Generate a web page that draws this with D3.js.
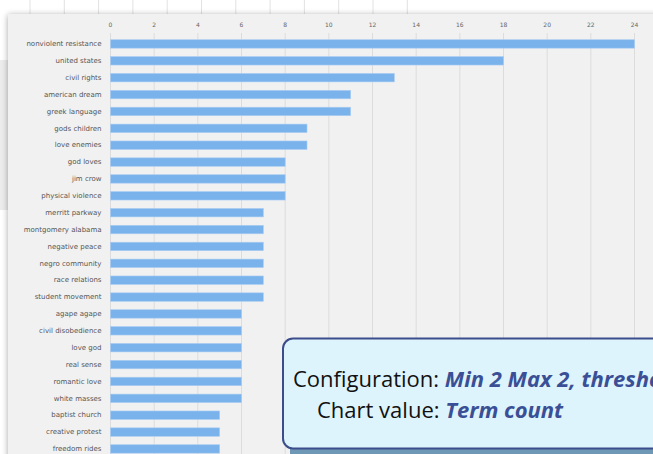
<!DOCTYPE html>
<html>
<head>
<meta charset="utf-8">
<script src="https://cdn.jsdelivr.net/npm/d3@7"></script>
<style>
  html, body { margin: 0; padding: 0; background: #fff; overflow: hidden; }
  svg { display: block; }
</style>
</head>
<body>
<div id="chart"></div>
<script>
const terms = [
  "nonviolent resistance", "united states", "civil rights", "american dream", "greek language",
  "gods children", "love enemies", "god loves", "jim crow", "physical violence",
  "merritt parkway", "montgomery alabama", "negative peace", "negro community", "race relations",
  "student movement", "agape agape", "civil disobedience", "love god", "real sense",
  "romantic love", "white masses", "baptist church", "creative protest", "freedom rides"
];
const counts = [24, 18, 13, 11, 11, 9, 9, 8, 8, 8, 7, 7, 7, 7, 7, 7, 6, 6, 6, 6, 6, 6, 5, 5, 5];
const xTicks = [0, 2, 4, 6, 8, 10, 12, 14, 16, 18, 20, 22, 24];
const configText = "Min 2 Max 2, threshold 2";
const chartValueText = "Term count";

const width = 653;
const height = 454;
const marginLeft = 110;
const marginRight = 19;
const marginTop = 35.5;

const svg = d3.select("#chart").append("svg")
  .attr("width", width)
  .attr("height", height);

const defs = svg.append("defs");
const shadow = defs.append("filter").attr("id", "shadow")
  .attr("x", "-10%").attr("y", "-10%").attr("width", "120%").attr("height", "120%");
shadow.append("feGaussianBlur").attr("in", "SourceAlpha").attr("stdDeviation", 3);
shadow.append("feOffset").attr("dx", 0).attr("dy", 1).attr("result", "b");
shadow.append("feComponentTransfer").append("feFuncA").attr("type", "linear").attr("slope", 0.35);
const merge = shadow.append("feMerge");
merge.append("feMergeNode");
merge.append("feMergeNode").attr("in", "SourceGraphic");

// background sheet behind the panel
const bg = svg.append("g");
bg.selectAll("line")
  .data(d3.range(30, 430, 34.3))
  .join("line")
  .attr("x1", d => d).attr("x2", d => d)
  .attr("y1", 0).attr("y2", 14)
  .attr("stroke", "#e2e2e2");
bg.append("rect").attr("x", 0).attr("y", 60).attr("width", 8).attr("height", 150).attr("fill", "#ececec");

// chart panel
svg.append("rect")
  .attr("x", 8).attr("y", 14)
  .attr("width", width).attr("height", height)
  .attr("fill", "#f1f1f1")
  .attr("filter", "url(#shadow)");

const x = d3.scaleLinear()
  .domain([0, 24])
  .range([marginLeft, width - marginRight]);

const y = d3.scaleBand()
  .domain(terms)
  .range([marginTop, marginTop + 16.875 * terms.length])
  .paddingInner(0.5)
  .paddingOuter(0.25);

// vertical grid
svg.append("g")
  .selectAll("line")
  .data(xTicks)
  .join("line")
  .attr("x1", d => x(d) + 0.5).attr("x2", d => x(d) + 0.5)
  .attr("y1", 33).attr("y2", height)
  .attr("stroke", "#dcdcdc");

// top axis labels
svg.append("g")
  .attr("transform", "translate(0,27)")
  .call(d3.axisTop(x).tickValues(xTicks).tickSize(0).tickPadding(0))
  .call(g => g.select(".domain").remove())
  .call(g => g.selectAll("text")
    .attr("font-family", "DejaVu Sans, Verdana, sans-serif")
    .attr("font-size", 6)
    .attr("fill", "#666"));

// bars
svg.append("g")
  .selectAll("rect")
  .data(terms.map((t, i) => ({ term: t, value: counts[i] })))
  .join("rect")
  .attr("x", x(0) + 0.5)
  .attr("y", d => y(d.term))
  .attr("width", d => x(d.value) - x(0))
  .attr("height", y.bandwidth())
  .attr("fill", "#7ab3eb")
  .attr("stroke", "#a9ccf2")
  .attr("stroke-width", 0.6);

// category labels
svg.append("g")
  .attr("transform", `translate(${marginLeft - 8.5},0)`)
  .call(d3.axisLeft(y).tickSize(0).tickPadding(0))
  .call(g => g.select(".domain").remove())
  .call(g => g.selectAll("text")
    .attr("font-family", "DejaVu Sans, Verdana, sans-serif")
    .attr("font-size", 7)
    .attr("fill", "#555"));

// configuration callout
const box = svg.append("g");
box.append("rect")
  .attr("x", 290).attr("y", 446)
  .attr("width", 400).attr("height", 20)
  .attr("fill", "#6f98b7");
box.append("rect")
  .attr("x", 283).attr("y", 338.5)
  .attr("width", 400).attr("height", 110)
  .attr("rx", 10)
  .attr("fill", "#def4fd")
  .attr("stroke", "#3c4d8c")
  .attr("stroke-width", 2);

const t1 = box.append("text")
  .attr("x", 293).attr("y", 387)
  .attr("font-family", "'Open Sans', sans-serif")
  .attr("font-size", 22)
  .attr("fill", "#111");
t1.append("tspan").text("Configuration: ");
t1.append("tspan").attr("font-weight", 700).attr("font-style", "italic").attr("fill", "#3a4f95").text(configText);

const t2 = box.append("text")
  .attr("x", 317).attr("y", 418)
  .attr("font-family", "'Open Sans', sans-serif")
  .attr("font-size", 22)
  .attr("fill", "#111");
t2.append("tspan").text("Chart value: ");
t2.append("tspan").attr("font-weight", 700).attr("font-style", "italic").attr("fill", "#3a4f95").text(chartValueText);
</script>
</body>
</html>
